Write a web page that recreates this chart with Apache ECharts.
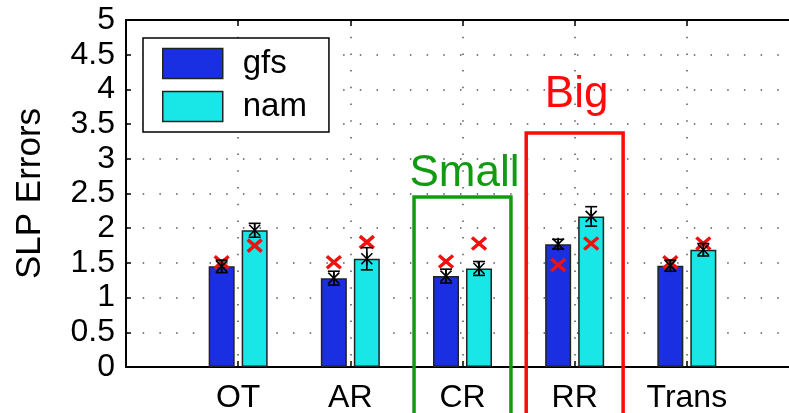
<!DOCTYPE html>
<html>
<head>
<meta charset="utf-8">
<script src="https://cdn.jsdelivr.net/npm/echarts@6/dist/echarts.min.js"></script>
<style>
html,body{margin:0;padding:0;background:#fff;}
#chart{width:789px;height:413px;}
</style>
</head>
<body>
<div id="chart"></div>
<script>
// ---- data ----
const categories = ['OT', 'AR', 'CR', 'RR', 'Trans'];
const gfs = [1.45, 1.28, 1.31, 1.77, 1.46];
const gfsErr = [0.09, 0.10, 0.10, 0.07, 0.08];
const nam = [1.97, 1.56, 1.42, 2.17, 1.69];
const namErr = [0.10, 0.16, 0.10, 0.14, 0.09];
const gfsAlt = [1.51, 1.51, 1.52, 1.47, 1.51];
const namAlt = [1.75, 1.80, 1.78, 1.78, 1.78];
const yTicks = [0, 0.5, 1, 1.5, 2, 2.5, 3, 3.5, 4, 4.5, 5];
const smallBox = {cat: 'CR', top: 2.45, label: 'Small', labelY: 2.78};
const bigBox = {cat: 'RR', top: 3.37, label: 'Big', labelY: 3.92};

// ---- helpers ----
const axisCats = [''].concat(categories, ['']);
const idx = c => axisCats.indexOf(c);
const pad = arr => ['-'].concat(arr, ['-']);
const BAR_W = 26, BAR_GAP = 7;
const OFFSET = (BAR_W + BAR_GAP) / 2;
const FONT = 'Liberation Sans, Arial, Helvetica, sans-serif';

function errData(means, errs) {
  return means.map((m, i) => [i + 1, m, errs[i]]);
}
function altData(vals) {
  return vals.map((v, i) => [i + 1, v]);
}
function errRender(sign) {
  return function (params, api) {
    const x = api.value(0), m = api.value(1), e = api.value(2);
    const t = api.coord([x, m + e]);
    const b = api.coord([x, m - e]);
    const c = api.coord([x, m]);
    const cx = c[0] + sign * OFFSET;
    const st = {stroke: '#000', lineWidth: 1.6, fill: null};
    const cap = 6, s = 5.5, v = 6.5;
    const line = (x1, y1, x2, y2) => ({type: 'line', shape: {x1, y1, x2, y2}, style: st});
    return {
      type: 'group',
      children: [
        line(cx, t[1], cx, b[1]),
        line(cx - cap, t[1], cx + cap, t[1]),
        line(cx - cap, b[1], cx + cap, b[1]),
        line(cx - s, c[1] - s, cx + s, c[1] + s),
        line(cx - s, c[1] + s, cx + s, c[1] - s),
        line(cx, c[1] - v, cx, c[1] + v)
      ]
    };
  };
}
function altRender(sign) {
  return function (params, api) {
    const c = api.coord([api.value(0), api.value(1)]);
    const cx = c[0] + sign * OFFSET;
    const st = {stroke: '#f01010', lineWidth: 3.5, fill: null};
    const hx = 7, hy = 6;
    return {
      type: 'group',
      children: [
        {type: 'line', shape: {x1: cx - hx, y1: c[1] - hy, x2: cx + hx, y2: c[1] + hy}, style: st},
        {type: 'line', shape: {x1: cx - hx, y1: c[1] + hy, x2: cx + hx, y2: c[1] - hy}, style: st}
      ]
    };
  };
}

const dotted = {color: '#555', width: 1.5, type: [1.5, 15.2]};

const option = {
  animation: false,
  backgroundColor: '#fff',
  grid: {left: 126, width: 673, top: 20, bottom: 46, containLabel: false, outerBoundsMode: 'none'},
  legend: {
    left: 143, top: 38, orient: 'vertical',
    itemWidth: 60, itemHeight: 30, itemGap: 10,
    padding: [9, 22, 9, 19],
    borderColor: '#000', borderWidth: 1.5, backgroundColor: '#fff',
    icon: 'rect',
    textStyle: {fontSize: 33, fontFamily: FONT, color: '#000', padding: [0, 0, 0, 15]},
    itemStyle: {borderColor: '#222', borderWidth: 1.5},
    data: ['gfs', 'nam']
  },
  xAxis: [
    {
      type: 'category', data: axisCats, boundaryGap: false, position: 'bottom',
      axisLine: {show: true, lineStyle: {color: '#000', width: 2}},
      axisTick: {show: true, inside: true, length: 6, interval: 0, lineStyle: {color: '#000', width: 1.5}},
      axisLabel: {interval: 0, fontSize: 32, fontFamily: FONT, color: '#000', margin: 15},
      splitLine: {show: true, interval: 0, lineStyle: dotted}
    },
    {
      type: 'category', data: axisCats, boundaryGap: false, position: 'top',
      axisLine: {show: true, lineStyle: {color: '#000', width: 2}},
      axisTick: {show: true, inside: true, length: 6, interval: 0, lineStyle: {color: '#000', width: 1.5}},
      axisLabel: {show: false},
      splitLine: {show: false}
    }
  ],
  yAxis: {
    type: 'value', min: yTicks[0], max: yTicks[yTicks.length - 1], interval: 0.5,
    name: 'SLP Errors', nameLocation: 'middle', nameGap: 78, nameRotate: 90,
    nameTextStyle: {fontSize: 35, fontFamily: FONT, color: '#000'},
    axisLine: {show: true, lineStyle: {color: '#000', width: 2}},
    axisTick: {show: true, inside: true, length: 5, lineStyle: {color: '#000', width: 1.5}},
    axisLabel: {fontSize: 32, fontFamily: FONT, color: '#000', margin: 11},
    splitLine: {show: true, lineStyle: dotted}
  },
  series: [
    {
      name: 'gfs', type: 'bar', data: pad(gfs), barWidth: BAR_W, barGap: (BAR_GAP / BAR_W * 100) + '%',
      itemStyle: {color: '#1A2EE2', borderColor: '#222', borderWidth: 1.5}, z: 2
    },
    {
      name: 'nam', type: 'bar', data: pad(nam), barWidth: BAR_W,
      itemStyle: {color: '#19E6E6', borderColor: '#222', borderWidth: 1.5}, z: 2
    },
    {type: 'custom', renderItem: errRender(-1), data: errData(gfs, gfsErr), z: 5, silent: true, encode: {x: 0, y: 1}},
    {type: 'custom', renderItem: errRender(1), data: errData(nam, namErr), z: 5, silent: true, encode: {x: 0, y: 1}},
    {type: 'custom', renderItem: altRender(-1), data: altData(gfsAlt), z: 4, silent: true, encode: {x: 0, y: 1}},
    {type: 'custom', renderItem: altRender(1), data: altData(namAlt), z: 4, silent: true, encode: {x: 0, y: 1}}
  ]
};

const chart = echarts.init(document.getElementById('chart'), null, {renderer: 'canvas'});
chart.setOption(option);

function boxGraphic(box, color, id) {
  const ci = idx(box.cat);
  const p = chart.convertToPixel({gridIndex: 0}, [ci, box.top]);
  const p2 = chart.convertToPixel({gridIndex: 0}, [ci + 1, box.top]);
  const band = p2[0] - p[0];
  const half = band * 0.432;
  const ly = chart.convertToPixel({gridIndex: 0}, [ci, box.labelY])[1];
  return [
    {
      type: 'rect', id: id + 'r', z: 20,
      shape: {x: p[0] - half, y: p[1], width: 2 * half, height: 413 - p[1] + 20},
      style: {fill: null, stroke: color, lineWidth: 3.5}
    },
    {
      type: 'text', id: id + 't', z: 20,
      x: p[0] + 2, y: ly,
      style: {text: box.label, fill: color, font: '44px ' + FONT, align: 'center', verticalAlign: 'middle'}
    }
  ];
}

chart.setOption({
  graphic: boxGraphic(smallBox, '#139A13', 's').concat(boxGraphic(bigBox, '#FF0a0a', 'b'))
});
</script>
</body>
</html>
